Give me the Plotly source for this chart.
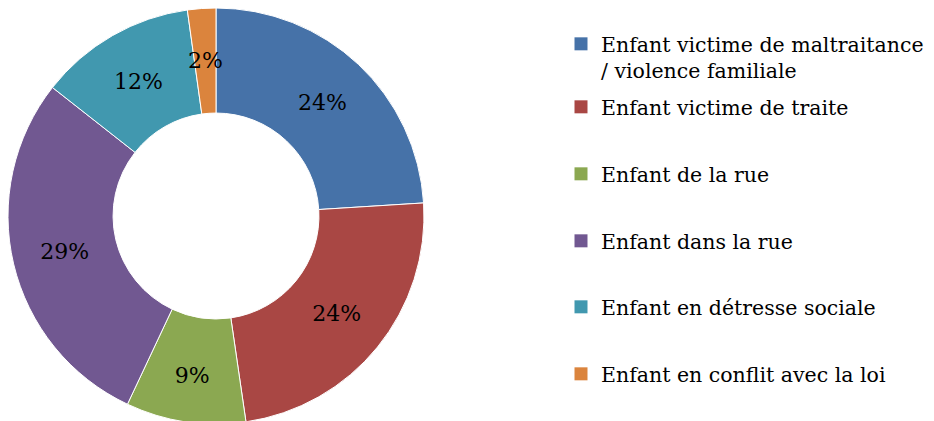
import math
import plotly.graph_objects as go

categories = [
    "Enfant victime de maltraitance<br>/ violence familiale",
    "Enfant victime de traite",
    "Enfant de la rue",
    "Enfant dans la rue",
    "Enfant en détresse sociale",
    "Enfant en conflit avec la loi",
]
values = [24.0, 23.7, 9.3, 28.6, 12.2, 2.2]
colors = ["#4672A8", "#A94744", "#8BA851", "#715891", "#4198AF", "#DB843D"]

FONT = "DejaVu Serif"
W, H = 934, 421
FS_PIE = 22
FS_LEG = 20.5
HOLE = 0.495
DX = [0, 416 / W]
DY = [5 / H, 1]

total = sum(values)
small = [v / total < 0.05 for v in values]

fig = go.Figure()
fig.add_trace(go.Pie(
    labels=categories,
    values=values,
    marker=dict(colors=colors, line=dict(color="white", width=1)),
    hole=HOLE,
    sort=False,
    direction="clockwise",
    rotation=0,
    texttemplate="%{percent:.0%}",
    textposition=["none" if s else "inside" for s in small],
    insidetextorientation="horizontal",
    textfont=dict(family=FONT, size=FS_PIE, color="black"),
    showlegend=False,
    hoverinfo="label+percent",
    domain=dict(x=DX, y=DY),
))

# label for narrow slices placed at the middle of the ring (computed from data)
cx_px = (DX[0] + DX[1]) / 2 * W
cy_px = (1 - (DY[0] + DY[1]) / 2) * H
R = min((DX[1] - DX[0]) * W, (DY[1] - DY[0]) * H) / 2
rmid = R * (1 + HOLE) / 2
cum = 0.0
for v, s in zip(values, small):
    if s:
        ang = math.radians((cum + v / 2) / total * 360)
        xp = cx_px + rmid * math.sin(ang)
        yp = cy_px - rmid * math.cos(ang)
        fig.add_annotation(
            x=xp / W, y=1 - yp / H, xref="paper", yref="paper",
            xanchor="center", yanchor="middle",
            text=f"{v / total:.0%}", showarrow=False,
            font=dict(family=FONT, size=FS_PIE, color="black"),
        )
    cum += v

legend_tops = [16, 79, 146, 213, 279, 346]
for i, (cat, col) in enumerate(zip(categories, colors)):
    lname = "legend" if i == 0 else f"legend{i+1}"
    fig.add_trace(go.Scatter(
        x=[None], y=[None], mode="markers", name=cat,
        marker=dict(symbol="square", size=13, color=col),
        legend=lname, showlegend=True,
    ))
    fig.update_layout(**{lname: dict(
        x=553 / W, xanchor="left",
        y=1 - legend_tops[i] / H, yanchor="top",
        font=dict(family=FONT, size=FS_LEG, color="black"),
        bgcolor="rgba(0,0,0,0)", borderwidth=0,
        valign="top", itemwidth=30,
    )})

fig.update_layout(
    width=W, height=H,
    margin=dict(l=0, r=0, t=0, b=0),
    paper_bgcolor="white", plot_bgcolor="white",
    xaxis=dict(visible=False), yaxis=dict(visible=False),
    uniformtext=dict(minsize=FS_PIE, mode="show"),
    font=dict(family=FONT),
)

fig.write_html("out.html")
